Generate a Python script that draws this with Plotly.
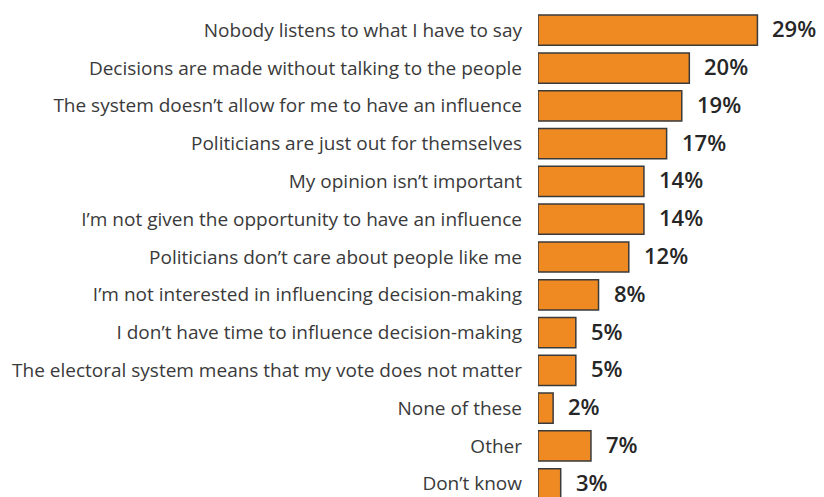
import plotly.graph_objects as go

categories = [
    "Nobody listens to what I have to say",
    "Decisions are made without talking to the people",
    "The system doesn\u2019t allow for me to have an influence",
    "Politicians are just out for themselves",
    "My opinion isn\u2019t important",
    "I\u2019m not given the opportunity to have an influence",
    "Politicians don\u2019t care about people like me",
    "I\u2019m not interested in influencing decision-making",
    "I don\u2019t have time to influence decision-making",
    "The electoral system means that my vote does not matter",
    "None of these",
    "Other",
    "Don\u2019t know",
]
values = [29, 20, 19, 17, 14, 14, 12, 8, 5, 5, 2, 7, 3]
value_labels = [f"{v}%" for v in values]

fig = go.Figure()
fig.add_trace(go.Bar(
    x=values, y=categories, orientation="h",
    marker=dict(color="#EF8A22", line=dict(color="#3a3a3a", width=1.5)),
    width=0.8, hoverinfo="skip",
))
for c, v, t in zip(categories, values, value_labels):
    fig.add_annotation(x=v, y=c, text=t, showarrow=False, xanchor="left",
                       xshift=14, yshift=2, borderpad=0,
                       font=dict(family="Open Sans", size=22, color="#262626", weight=600))

fig.update_layout(
    width=824, height=497,
    margin=dict(l=538, r=0, t=0, b=0),
    plot_bgcolor="white", paper_bgcolor="white",
    showlegend=False,
    xaxis=dict(range=[0, 37.8], visible=False, fixedrange=True),
    yaxis=dict(
        categoryorder="array", categoryarray=categories,
        range=[12.35, -0.8], showgrid=False, zeroline=False, showline=False,
        ticks="", ticklabelstandoff=15,
        tickfont=dict(family="Open Sans", size=19, color="#3a3a3a"),
    ),
)
fig.write_html("out.html")
